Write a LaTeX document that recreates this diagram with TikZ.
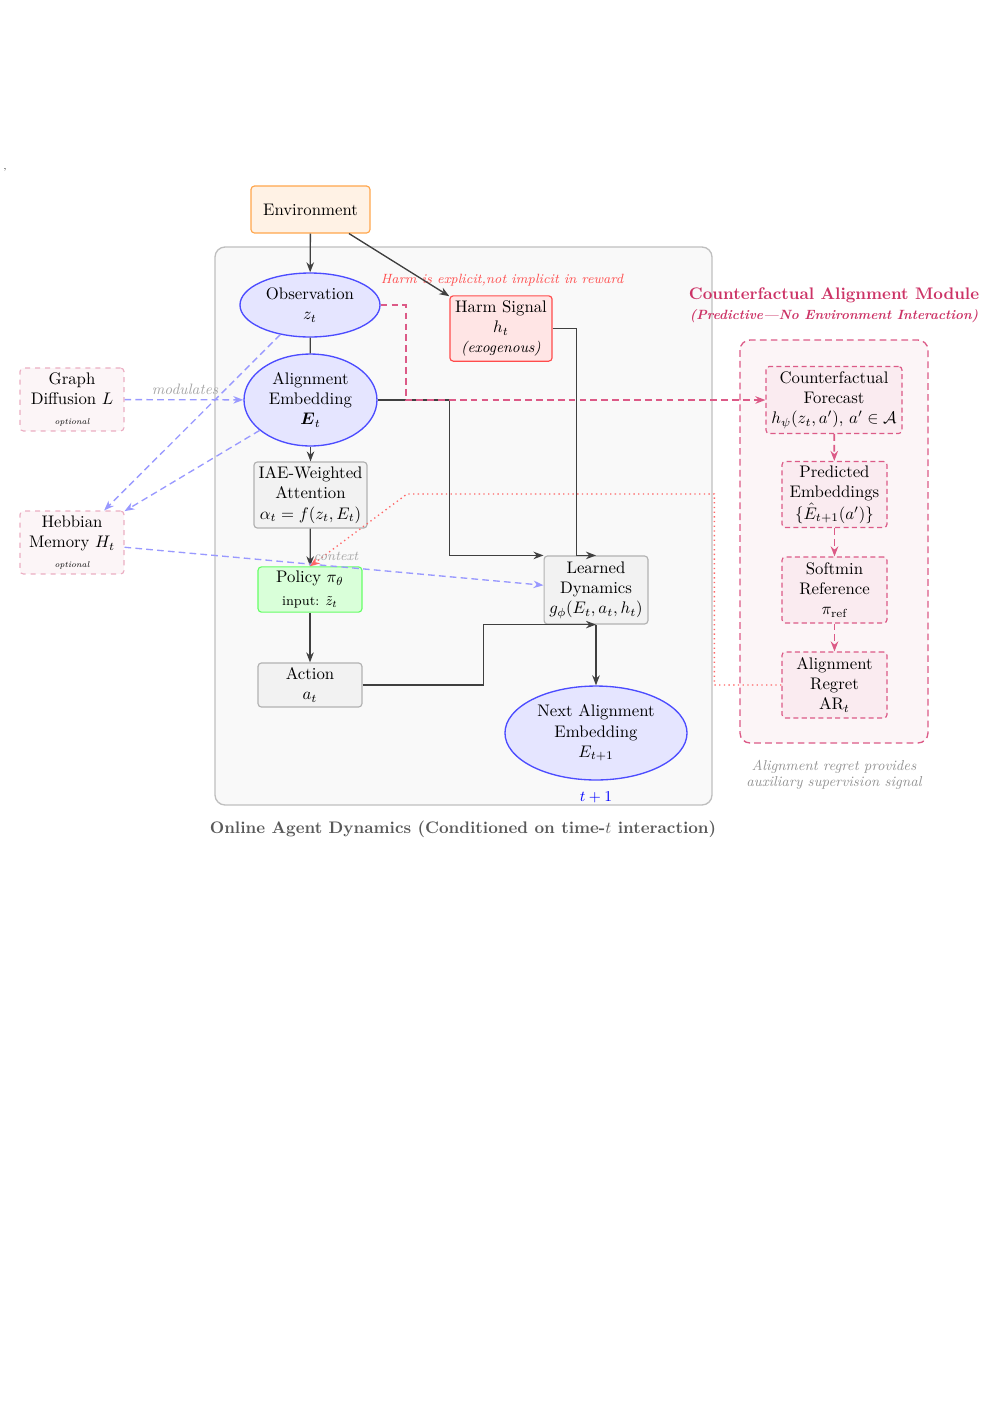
\documentclass[tikz,border=0pt]{standalone}
\usepackage{amsmath,amssymb}
\usetikzlibrary{shapes.geometric,arrows.meta}
\definecolor{cfpink}{RGB}{204,51,102}
\definecolor{pinkline}{RGB}{220,90,135}
\begin{document}
\begin{tikzpicture}[x=0.5971pt,y=-0.5971pt,
  base/.style={align=center,inner sep=1pt,line width=0.7pt,font=\normalsize},
  envbox/.style={base,rectangle,rounded corners=2pt,draw=orange!70,fill=orange!10,minimum width=71pt,minimum height=28pt},
  ell/.style={base,ellipse,draw=blue!70,fill=blue!10,line width=0.8pt},
  harmbox/.style={base,rectangle,rounded corners=2pt,draw=red!70,fill=red!10,minimum width=61pt,minimum height=39pt},
  graybox/.style={base,rectangle,rounded corners=2pt,draw=gray!60,fill=gray!10},
  polbox/.style={base,rectangle,rounded corners=2pt,draw=green!60,fill=green!15,minimum width=62pt,minimum height=27pt},
  optbox/.style={base,rectangle,rounded corners=2pt,dashed,draw=cfpink!40,fill=cfpink!5,minimum width=62pt,minimum height=37.6pt},
  cfbox/.style={base,rectangle,rounded corners=2pt,dash pattern=on 3pt off 2pt,draw=pinkline,fill=cfpink!10,minimum width=62.7pt,minimum height=39.4pt},
  arr/.style={-{Stealth[length=6pt,width=4.5pt]},draw=black!75,line width=0.8pt},
  plain/.style={draw=black!75,line width=0.8pt},
  pinkarr/.style={-{Stealth[length=6pt,width=4.5pt]},draw=pinkline,line width=1.1pt,dash pattern=on 4pt off 2.5pt},
  bluearr/.style={-{Stealth[length=6pt,width=4.5pt]},draw=blue!40,line width=0.8pt,dash pattern=on 4pt off 2.5pt},
  redarr/.style={-{Stealth[length=6pt,width=4.5pt]},draw=red!60,line width=0.8pt,dotted},
  lbl/.style={font=\fontsize{9}{11}\selectfont\itshape,text=gray!70,inner sep=0pt}
]
\useasboundingbox (0,0) rectangle (997,1410);
\node[font=\tiny,inner sep=0pt] (comma) at (5,170) {,};

% outer panel
\draw[draw=gray!50,fill=gray!5,line width=0.8pt,rounded corners=6pt] (215,247) rectangle (712,805);
% counterfactual module panel
\draw[draw=pinkline,fill=cfpink!5,line width=0.8pt,dash pattern=on 4pt off 2.5pt,rounded corners=6pt] (740,340) rectangle (928,743);

% nodes
\node[envbox] (env) at (310.5,209.5) {Environment};
\node[ell,minimum width=83.6pt,minimum height=38.2pt] (obs) at (310,305) {Observation\\ $z_t$};
\node[ell,minimum width=79.4pt,minimum height=54.9pt] (ae) at (310.5,400) {Alignment\\ Embedding\\ $\boldsymbol{E}_t$};
\node[harmbox] (harm) at (501,328.5) {Harm Signal\\ $h_t$\\ {\small\itshape (exogenous)}};
\node[graybox,minimum width=67.5pt,minimum height=39.4pt] (iae) at (310.5,495) {IAE-Weighted\\ Attention\\ $\alpha_t = f(z_t, E_t)$};
\node[polbox] (pol) at (310,589.5) {Policy $\pi_\theta$\\[1.5pt] {\footnotesize input: $\tilde{z}_t$}};
\node[graybox,minimum width=62pt,minimum height=26.3pt] (act) at (310,685) {Action\\ $a_t$};
\node[graybox,minimum width=62pt,minimum height=40.6pt] (dyn) at (596,590) {Learned\\ Dynamics\\ $g_\phi(E_t, a_t, h_t)$};
\node[ell,minimum width=108.7pt,minimum height=56.1pt] (next) at (596,733) {Next Alignment\\ Embedding\\ $E_{t+1}$};

\node[optbox] (gd) at (72,399.5) {Graph\\ Diffusion $L$\\ {\tiny\itshape optional}};
\node[optbox] (heb) at (72,542.5) {Hebbian\\ Memory $H_t$\\ {\tiny\itshape optional}};

\node[cfbox,minimum width=81.2pt,minimum height=40pt] (cf) at (834,400) {Counterfactual\\ Forecast\\ $h_\psi(z_t, a'),\, a' \in \mathcal{A}$};
\node[cfbox] (pe) at (834.5,494.5) {Predicted\\ Embeddings\\[1pt] $\{\hat{E}_{t+1}(a')\}$};
\node[cfbox] (sr) at (834.5,590) {Softmin\\ Reference\\ $\pi_{\text{ref}}$};
\node[cfbox] (ar) at (834.5,685) {Alignment\\ Regret\\ $\text{AR}_t$};

% labels
\node[font=\footnotesize\itshape,text=red!70,inner sep=0pt] (harmlbl) at (502,280) {Harm is explicit,not implicit in reward};
\node[font=\normalsize\bfseries,text=cfpink,inner sep=0pt] (cftitle) at (834,295) {Counterfactual Alignment Module};
\node[font=\footnotesize\bfseries\itshape,text=cfpink,inner sep=0pt] (cfsub) at (834,316) {(Predictive---No Environment Interaction)};
\node[font=\fontsize{8.6}{9.6}\selectfont\itshape,text=gray!85,align=center,inner sep=0pt] (cfcap) at (834,775) {Alignment regret provides\\ auxiliary supervision signal};
\node[font=\small,text=blue,inner sep=0pt] (tlbl) at (596,797) {$t+1$};
\node[font=\normalsize\bfseries,text=black!65,inner sep=0pt] (caption) at (463,829) {Online Agent Dynamics (Conditioned on time-$t$ interaction)};

% main connectors
\draw[arr] (env) -- (obs);
\draw[arr] (env) -- (harm);
\draw[plain] (obs) -- (ae);
\draw[arr] (ae) -- (iae);
\draw[arr] (iae) -- (pol);
\draw[arr] (pol) -- (act);
\draw[arr] (ae.east) -- ++(72,0) |- (dyn.north west);
\draw[arr] (harm.east) -- ++(24,0) |- (dyn.north);
\draw[arr] (act.east) -- ++(121,0) |- (dyn.south);
\draw[arr] (dyn.south) -- (next.north);

% counterfactual connectors
\draw[pinkarr] (obs.east) -- ++(25,0) |- (cf.west);
\draw[pinkarr] (cf) -- (pe);
\draw[pinkarr] (pe) -- (sr);
\draw[pinkarr] (sr) -- (ar);

% optional modules
\draw[bluearr] (gd) -- (ae);
\node[lbl] (modlbl) at (185,389) {modulates};
\draw[bluearr] (obs) -- (heb);
\draw[bluearr] (ae) -- (heb);
\draw[bluearr] (heb) -- (dyn);

% context feedback
\coordinate (ctxbend) at (407,494);
\draw[redarr] (ar.west) -- ++(-67,0) |- (ctxbend) -- (pol.north);
\node[lbl,font=\footnotesize\itshape] (ctxlbl) at (336,556) {context};
\end{tikzpicture}
\end{document}
